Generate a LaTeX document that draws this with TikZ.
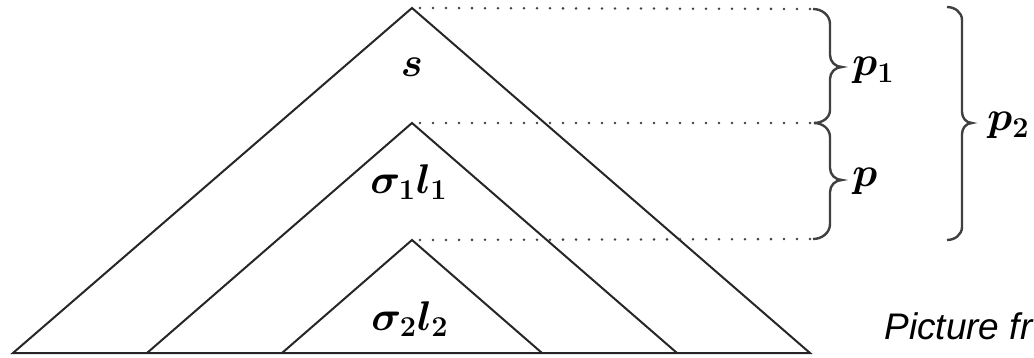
\documentclass[tikz,border=0pt]{standalone}
\usepackage{fontspec}
\newfontfamily\capfont{Liberation Sans}
\usepackage{amsmath}
\begin{document}
\begin{tikzpicture}[x=0.5pt,y=-0.5pt,
  edge/.style={line width=1pt,draw=black!85,line join=miter},
  dots/.style={line width=1.4pt,draw=black!75,line cap=round,dash pattern=on 0pt off 6.5pt},
  bracestyle/.style={line width=1.2pt,draw=black!75},
  lab/.style={inner sep=0pt,font=\fontsize{22}{24}\selectfont\boldmath},
  capt/.style={inner sep=0pt,font=\fontsize{18.5}{21}\selectfont\capfont\itshape}]
\useasboundingbox (0,0) rectangle (1034,358);
% triangle corners
\coordinate (A) at (412,8);
\coordinate (AL) at (13,353);
\coordinate (AR) at (810,353);
\coordinate (B) at (412,123);
\coordinate (BL) at (147,353);
\coordinate (BR) at (677,353);
\coordinate (C) at (412,240);
\coordinate (CL) at (282,353);
\coordinate (CR) at (542,353);
% brace ends
\coordinate (E1) at (813,9);
\coordinate (E2) at (814,123);
\coordinate (E3) at (813,239);
% triangles
\draw[edge] (AL) -- (A) -- (AR) -- cycle;
\draw[edge] (BL) -- (B) -- (BR);
\draw[edge] (CL) -- (C) -- (CR);
% dotted guides
\draw[dots] (A) ++(8,0) -- (E1);
\draw[dots] (B) ++(8,0) -- (E2);
\draw[dots] (C) ++(8,0) -- (E3);
% braces
\draw[bracestyle] (E1) to[out=0,in=90] (830,24) -- (830,55) to[out=-90,in=180] (842,67)
  to[out=180,in=90] (830,79) -- (830,110) to[out=-90,in=0] (E2);
\draw[bracestyle] (E2) to[out=0,in=90] (830,137) -- (830,168) to[out=-90,in=180] (842,180)
  to[out=180,in=90] (830,192) -- (830,224) to[out=-90,in=0] (E3);
\coordinate (F1) at (947,7);
\coordinate (F2) at (947,240);
\draw[bracestyle] (F1) to[out=0,in=90] (962,20) -- (962,112) to[out=-90,in=180] (972,123)
  to[out=180,in=90] (962,134) -- (962,227) to[out=-90,in=0] (F2);
% labels
\node[lab,anchor=base] (s) at (412,77) {$s$};
\node[lab,anchor=base] (l1) at (409,193) {$\sigma_1 l_1$};
\node[lab,anchor=base] (l2) at (410,330) {$\sigma_2 l_2$};
\node[lab,anchor=base west] (p1) at (852,76) {$p_1$};
\node[lab,anchor=base west] (p) at (852,186) {$p$};
\node[lab,anchor=base west] (p2) at (987,131) {$p_2$};
\node[capt,anchor=base west] (cap) at (884,339) {Picture fr};
\end{tikzpicture}
\end{document}
